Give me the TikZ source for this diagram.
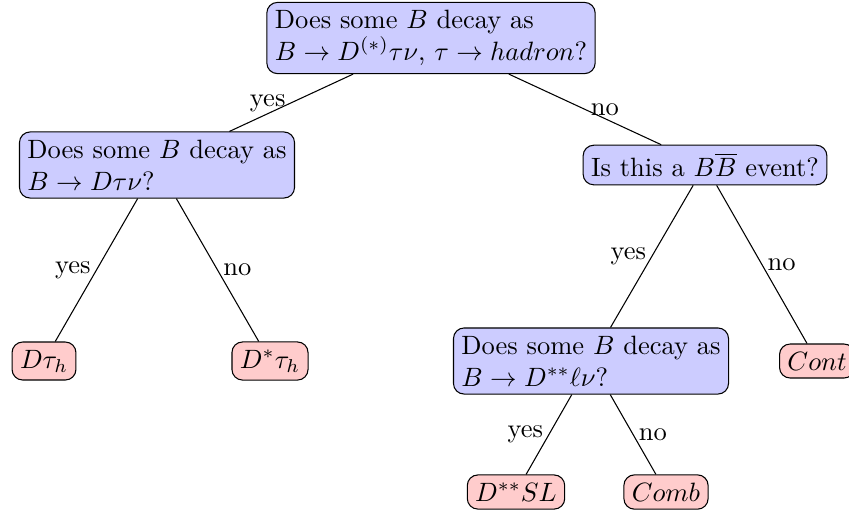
\documentclass[tikz,border=0pt]{standalone}
\begin{document}
\begin{tikzpicture}[x=0.3774pt,y=-0.3774pt,
  q/.style={draw, rounded corners=4pt, fill=blue!20, align=left, inner sep=3pt},
  leaf/.style={draw, rounded corners=4pt, fill=red!20, inner sep=3pt},
  lab/.style={inner sep=2pt}]
\useasboundingbox (0,0) rectangle (849,514);
\node[q] (top) at (431,38) {Does some $B$ decay as\\ $B\to D^{(*)}\tau\nu$, $\tau\to hadron$?};
\node[q] (l) at (157,165) {Does some $B$ decay as\\ $B\to D\tau\nu$?};
\node[q] (r) at (705,165) {Is this a $B\overline{B}$ event?};
\node[q] (rl) at (591,361) {Does some $B$ decay as\\ $B\to D^{**}\ell\nu$?};
\node[leaf] (dt) at (44,361) {$D\tau_h$};
\node[leaf] (dst) at (270,361) {$D^{*}\tau_h$};
\node[leaf, anchor=west] (cont) at (779,361) {$Cont$};
\node[leaf] (dss) at (516,492) {$D^{**}SL$};
\node[leaf] (comb) at (666,492) {$Comb$};
\draw (top) -- node[lab, left] {yes} (l);
\draw (top) -- node[lab, right] {no} (r);
\draw (l) -- node[lab, left] {yes} (dt);
\draw (l) -- node[lab, right] {no} (dst);
\draw (r) -- node[lab, left] {yes} (rl);
\draw (r) -- node[lab, right] {no} (cont);
\draw (rl) -- node[lab, left] {yes} (dss);
\draw (rl) -- node[lab, right] {no} (comb);
\end{tikzpicture}
\end{document}
